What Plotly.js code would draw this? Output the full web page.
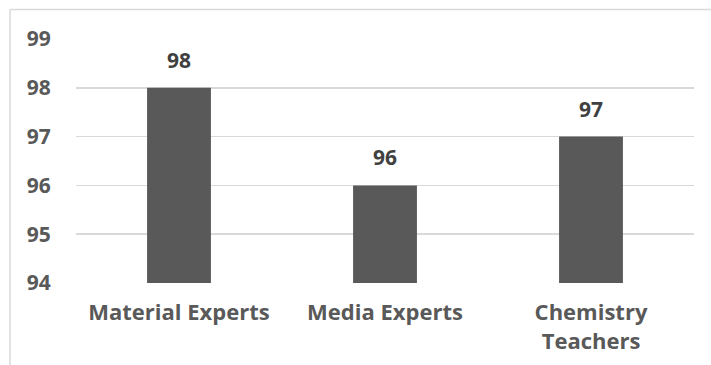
<!DOCTYPE html>
<html>
<head>
<meta charset="utf-8">
<script src="https://cdn.plot.ly/plotly-3.0.1.min.js"></script>
<style>html,body{margin:0;padding:0;background:#fff;}#chart{width:711px;height:365px;}</style>
</head>
<body>
<div id="chart"></div>
<script>
const categories = ["Material Experts", "Media Experts", "Chemistry<br>Teachers"];
const values = [98, 96, 97];
const yTicks = [94, 95, 96, 97, 98, 99];

const L = 76, R = 17, T = 39, B = 82, W = 711, H = 365;
const pw = W - L - R, ph = H - T - B;
const px = v => (v - L) / pw;
const py = v => (H - B - v) / ph;

const trace = {
  type: "bar",
  x: categories,
  y: values,
  marker: {color: "#595959"},
  width: 0.31,
  hoverinfo: "none",
  cliponaxis: true
};

const annotations = categories.map((c, i) => ({
  x: c, y: values[i], xref: "x", yref: "y",
  text: String(values[i]), showarrow: false,
  yanchor: "bottom", yshift: 12,
  font: {family: "Open Sans", size: 21, color: "#404040", weight: "bold"}
}));

const layout = {
  width: W, height: H,
  margin: {l: L, r: R, t: T, b: B, pad: 0},
  paper_bgcolor: "#fff", plot_bgcolor: "#fff",
  showlegend: false,
  xaxis: {
    type: "category",
    tickfont: {family: "Open Sans", size: 22, color: "#595959", weight: "bold"},
    showgrid: false, zeroline: false, showline: false, ticks: "", ticklen: 0,
    ticklabelstandoff: 14
  },
  yaxis: {
    range: [94, 99],
    tickvals: yTicks,
    ticktext: yTicks.map(String),
    tickfont: {family: "Open Sans", size: 21, color: "#595959", weight: "bold"},
    showgrid: true, gridcolor: "#d9d9d9", gridwidth: 1.5,
    zeroline: false, showline: false, ticks: "outside", ticklen: 20, tickcolor: "rgba(0,0,0,0)"
  },
  annotations: annotations,
  shapes: [
    {type: "line", xref: "paper", yref: "paper", x0: px(10), x1: px(10), y0: py(365), y1: py(9.5), line: {color: "#d9d9d9", width: 1.5}},
    {type: "line", xref: "paper", yref: "paper", x0: px(10), x1: px(712), y0: py(9.5), y1: py(9.5), line: {color: "#d9d9d9", width: 1.5}}
  ]
};

Plotly.newPlot("chart", [trace], layout, {displayModeBar: false, staticPlot: true});
</script>
</body>
</html>
